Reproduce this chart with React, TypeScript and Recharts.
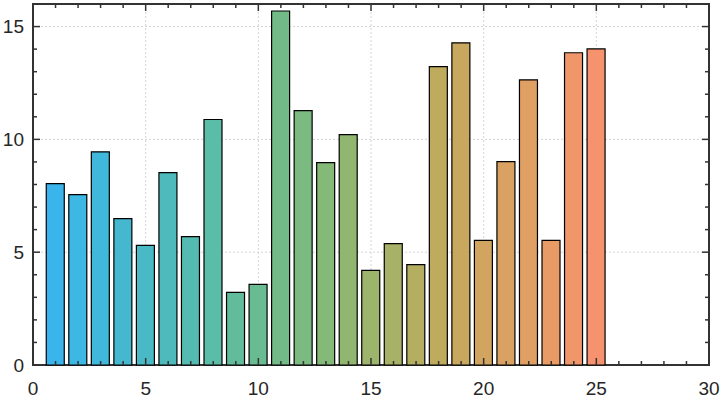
import { Bar, BarChart, CartesianGrid, Cell, ReferenceArea, XAxis, YAxis } from 'recharts';

// bar positions and heights
const positions = [1, 2, 3, 4, 5, 6, 7, 8, 9, 10, 11, 12, 13, 14, 15, 16, 17, 18, 19, 20, 21, 22, 23, 24, 25];
const heights = [
  8.04, 7.55, 9.45, 6.49, 5.3, 8.53, 5.69, 10.88, 3.22, 3.57, 15.69, 11.27, 8.97,
  10.21, 4.19, 5.38, 4.45, 13.22, 14.28, 5.52, 9.01, 12.64, 5.52, 13.84, 14.01,
];
const barColors = [
  '#3ab5eb', '#3db7e3', '#40b8dc', '#45b8d0', '#4ab9c6', '#4fbabb', '#54bbb1', '#5bbca7',
  '#62bc9b', '#69bc92', '#72bb89', '#7bba80', '#85b977', '#90b66f', '#9cb46c', '#a7b266',
  '#b3ae60', '#beab5e', '#c8a75e', '#d1a560', '#daa262', '#e09f63', '#e99b66', '#f0966b',
  '#f7926f',
];

const xTicks = Array.from({ length: 31 }, (_, i) => i);
const yTicks = Array.from({ length: 17 }, (_, i) => i);
const xGrid = [5, 10, 15, 20, 25];
const yGrid = [5, 10, 15];

const data = positions.map((x, i) => ({ x, v: heights[i] }));

const W = 723;
const H = 398;
const M = { top: 4, right: 14, bottom: 0, left: 0 };
const Y_AXIS_W = 33;
const X_AXIS_H = 33;
const PLOT_TOP = M.top;
const PLOT_RIGHT = W - M.right;

const AXIS = '#333333';
const TEXT = '#262626';
const FONT = '"Liberation Sans", Arial, sans-serif';

function XTick(props: any) {
  const { x, y, payload } = props;
  const major = payload.value % 5 === 0;
  const len = major ? 7 : 4;
  return (
    <g>
      <line x1={x} y1={y} x2={x} y2={y - len} stroke={AXIS} strokeWidth={1.5} />
      <line x1={x} y1={PLOT_TOP} x2={x} y2={PLOT_TOP + len} stroke={AXIS} strokeWidth={1.5} />
      {major && (
        <text x={x} y={y + 30} textAnchor="middle" fill={TEXT} fontSize={19} fontFamily={FONT}>
          {payload.value}
        </text>
      )}
    </g>
  );
}

function YTick(props: any) {
  const { x, y, payload } = props;
  const major = payload.value % 5 === 0;
  const len = major ? 7 : 4;
  return (
    <g>
      <line x1={x} y1={y} x2={x + len} y2={y} stroke={AXIS} strokeWidth={1.5} />
      <line x1={PLOT_RIGHT} y1={y} x2={PLOT_RIGHT - len} y2={y} stroke={AXIS} strokeWidth={1.5} />
      {major && (
        <text x={x - 9} y={y} dy="0.36em" textAnchor="end" fill={TEXT} fontSize={19} fontFamily={FONT}>
          {payload.value}
        </text>
      )}
    </g>
  );
}

export default function App() {
  return (
    <div style={{ position: 'absolute', left: 0, top: 0, width: W, height: H, background: '#fff' }}>
      <BarChart width={W} height={H} data={data} margin={M}>
        <CartesianGrid
          stroke="#d4d4d4"
          strokeDasharray="2 2"
          verticalValues={xGrid}
          horizontalValues={yGrid}
        />
        <XAxis
          dataKey="x"
          type="number"
          domain={[0, 30]}
          ticks={xTicks}
          interval={0}
          height={X_AXIS_H}
          tickSize={0}
          tickMargin={0}
          tickLine={false}
          axisLine={false}
          tick={<XTick />}
        />
        <YAxis
          type="number"
          domain={[0, 16]}
          ticks={yTicks}
          interval={0}
          width={Y_AXIS_W}
          tickSize={0}
          tickMargin={0}
          tickLine={false}
          axisLine={false}
          tick={<YTick />}
        />
        <Bar dataKey="v" barSize={18} stroke="#000" strokeWidth={1.2} isAnimationActive={false}>
          {data.map((d, i) => (
            <Cell key={d.x} fill={barColors[i]} />
          ))}
        </Bar>
        <ReferenceArea x1={0} x2={30} y1={0} y2={16} fill="none" stroke={AXIS} strokeWidth={2} />
      </BarChart>
    </div>
  );
}
